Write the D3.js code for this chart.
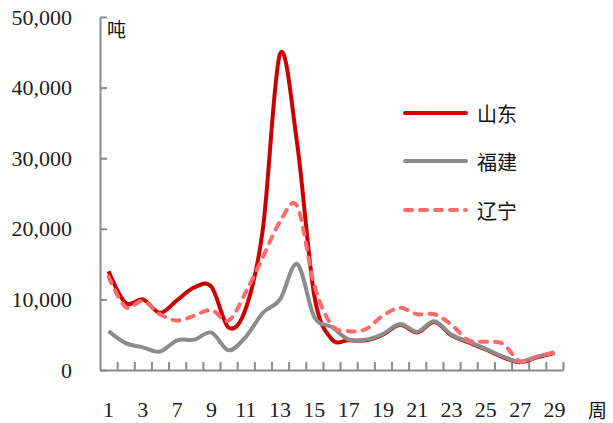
<!DOCTYPE html>
<html>
<head>
<meta charset="utf-8">
<script src="https://cdn.jsdelivr.net/npm/d3@7/dist/d3.min.js"></script>
<style>
  html, body { margin: 0; padding: 0; background: #fff; }
  svg { display: block; }
</style>
</head>
<body>
<svg id="chart" width="613" height="423"></svg>
<script>
// ---- data ----
const weeks = ["1","2","3","4","7","8","9","10","11","12","13","14","15","16","17","18","19","20","21","22","23","24","25","26","27","28","29"];
const weekLabels = ["1","3","7","9","11","13","15","17","19","21","23","25","27","29"];
const shandong = [14000, 9500, 10000, 8100, 9900, 11700, 11800, 6000, 8700, 20000, 44800, 32000, 10500, 4400, 4200,
                  4200, 5000, 6400, 5300, 6800, 4900, 3900, 2900, 1800, 1100, 1800, 2400];
const fujian   = [5500, 3800, 3200, 2600, 4200, 4300, 5300, 2800, 4700, 8100, 10000, 15000, 7500, 6100, 4300,
                  4300, 5100, 6500, 5400, 6900, 5000, 4000, 3000, 1900, 1200, 1900, 2500];
const liaoning = [13200, 8900, 9800, 7900, 7000, 7700, 8500, 7000, 11000, 16000, 21000, 23200, 12000, 6400, 5500,
                  5800, 7700, 8800, 7900, 7900, 6400, 4200, 4000, 3700, 1200, 1900, 2500];
const seriesNames = ["山东", "福建", "辽宁"];
const yTicks = [0, 10000, 20000, 30000, 40000, 50000];

// ---- chart ----
const svg = d3.select("#chart");
const mLeft = 100, mRight = 563, mTop = 17, mBottom = 370;

const x = d3.scaleBand().domain(weeks).range([mLeft, mRight]).paddingInner(0).paddingOuter(0);
const xb = d3.scaleLinear().domain([0, weeks.length]).range([mLeft, mRight]);
const y = d3.scaleLinear().domain([0, 50000]).range([mBottom, mTop]);

const axisColor = "#898989";
const numFont = "'Liberation Serif', 'Times New Roman', serif";
const cjkFont = "'Noto Sans CJK SC', 'Noto Sans CJK JP', sans-serif";

// y axis
const yAxis = svg.append("g").attr("transform", `translate(${mLeft},0)`)
  .call(d3.axisLeft(y).tickValues(yTicks).tickFormat(d3.format(",")).tickSize(-7).tickSizeOuter(0).tickPadding(28));
yAxis.selectAll("path, line").attr("stroke", axisColor).attr("stroke-width", 2);
yAxis.selectAll("text").attr("font-family", numFont).attr("font-size", 22).attr("fill", "#222");

// x axis: boundary ticks
const xTickAxis = svg.append("g").attr("transform", `translate(0,${mBottom})`)
  .call(d3.axisBottom(xb).tickValues(d3.range(1, weeks.length + 1)).tickSize(-8).tickSizeOuter(0).tickFormat(""));
xTickAxis.selectAll("path, line").attr("stroke", axisColor).attr("stroke-width", 2);

// x axis: labels
const xLabelAxis = svg.append("g").attr("transform", `translate(0,${mBottom})`)
  .call(d3.axisBottom(x).tickValues(weekLabels).tickSize(0).tickPadding(31));
xLabelAxis.select(".domain").remove();
xLabelAxis.selectAll("text").attr("font-family", numFont).attr("font-size", 22).attr("fill", "#222");

// unit labels
svg.append("text").attr("x", 107).attr("y", 28).attr("dominant-baseline", "central")
  .attr("font-family", cjkFont).attr("font-size", 19).attr("fill", "#111").text("吨");
svg.append("text").attr("x", 588).attr("y", 409).attr("dominant-baseline", "central")
  .attr("font-family", cjkFont).attr("font-size", 19).attr("fill", "#111").text("周");

// lines
const series = [
  { name: seriesNames[0], values: shandong, color: "#CC0000", dash: null },
  { name: seriesNames[1], values: fujian,   color: "#8C8C8C", dash: null },
  { name: seriesNames[2], values: liaoning, color: "#FF6B6B", dash: "7,8" }
];

const line = d3.line()
  .x((d, i) => x(weeks[i]) + x.bandwidth() / 2)
  .y(d => y(d))
  .curve(d3.curveCatmullRom.alpha(0));

series.forEach(s => {
  svg.append("path").datum(s.values)
    .attr("d", line)
    .attr("fill", "none")
    .attr("stroke", s.color)
    .attr("stroke-width", 4)
    .attr("stroke-linecap", s.dash ? "round" : "butt")
    .attr("stroke-linejoin", "round")
    .attr("stroke-dasharray", s.dash);
});

// legend
const legY = [113, 161, 210];
series.forEach((s, i) => {
  svg.append("line").attr("x1", 405).attr("x2", 466).attr("y1", legY[i]).attr("y2", legY[i])
    .attr("stroke", s.color).attr("stroke-width", 4)
    .attr("stroke-linecap", "round")
    .attr("stroke-dasharray", s.dash);
  svg.append("text").attr("x", 477).attr("y", legY[i]).attr("dominant-baseline", "central")
    .attr("font-family", cjkFont).attr("font-size", 20).attr("fill", "#111").text(s.name);
});
</script>
</body>
</html>
